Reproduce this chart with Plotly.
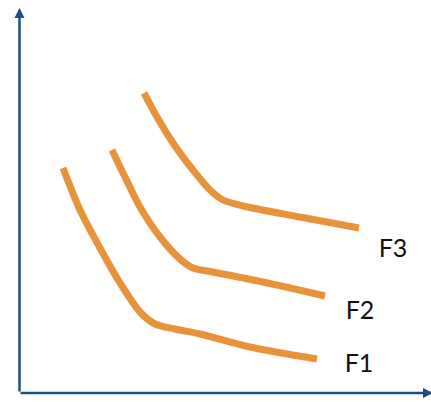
import plotly.graph_objects as go

# Indifference-style curves F1, F2, F3 (x, y in chart units, origin at the axes corner)
f1_x = [44, 61, 81, 101, 121, 136, 156, 181, 231, 298]
f1_y = [225, 183, 145, 110, 81, 69, 64, 59, 46, 34]

f2_x = [93, 104, 121, 141, 161, 174, 194, 244, 306]
f2_y = [243, 220, 186, 156, 134, 125, 121, 111, 97]

f3_x = [125, 138, 154, 174, 191, 204, 224, 281, 340]
f3_y = [300, 276, 250, 223, 203, 193, 187, 176, 165]

labels = ["F1", "F2", "F3"]
label_x = [340, 341, 374]
label_y = [27, 80, 142]

ORANGE = "#E8923A"
NAVY = "#1F4E80"

fig = go.Figure()
for xs, ys in [(f1_x, f1_y), (f2_x, f2_y), (f3_x, f3_y)]:
    fig.add_trace(go.Scatter(
        x=xs, y=ys, mode="lines",
        line=dict(color=ORANGE, width=7, shape="spline", smoothing=0.85),
        hoverinfo="skip", showlegend=False,
    ))

fig.add_trace(go.Scatter(
    x=label_x, y=label_y, mode="text", text=labels,
    textfont=dict(family="Lato, Open Sans, sans-serif", size=25, color="#111111"),
    hoverinfo="skip", showlegend=False,
))

# Axis arrows
fig.add_annotation(x=0.5, y=385, ax=0.5, ay=0, xref="x", yref="y", axref="x", ayref="y",
                   showarrow=True, arrowhead=2, arrowsize=0.8, arrowwidth=2.5,
                   arrowcolor=NAVY, text="")
fig.add_annotation(x=414, y=0, ax=0, ay=0, xref="x", yref="y", axref="x", ayref="y",
                   showarrow=True, arrowhead=2, arrowsize=0.8, arrowwidth=2.5,
                   arrowcolor=NAVY, text="")

fig.update_layout(
    width=431, height=402,
    margin=dict(l=0, r=0, t=0, b=0),
    paper_bgcolor="white", plot_bgcolor="white",
    xaxis=dict(range=[-19, 412], visible=False, fixedrange=True),
    yaxis=dict(range=[-9, 393], visible=False, fixedrange=True),
)

fig.write_html("out.html")
